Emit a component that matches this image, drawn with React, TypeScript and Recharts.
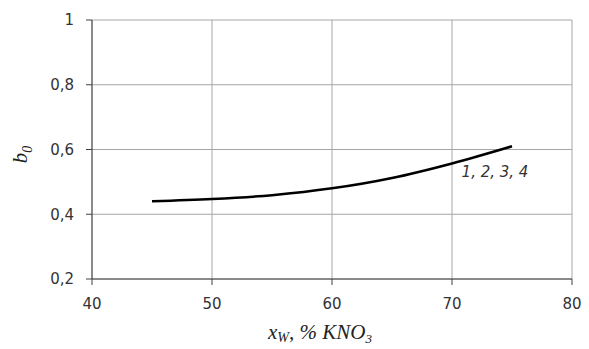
import React from 'react'
import {
  LineChart,
  Line,
  XAxis,
  YAxis,
  CartesianGrid,
  ReferenceDot,
} from 'recharts'

// значения кривой b0(xW), общие для кривых 1–4
const xW = [45, 50, 55, 60, 65, 70, 75]
const b0 = [0.44, 0.447, 0.459, 0.48, 0.512, 0.557, 0.61]

const xTicks = [40, 50, 60, 70, 80]
const yTicks = [0.2, 0.4, 0.6, 0.8, 1]

const curveLabel = '1, 2, 3, 4'
const labelAt = { x: 70.8, y: 0.514 }

const data = xW.map((x, i) => ({ x, b: b0[i] }))

const AXIS = '#404040'
const GRID = '#a6a6a6'
const TICK_FONT = { fontSize: 15, fill: '#333', fontFamily: 'DejaVu Sans' }

const fmt = (v: number) => String(v).replace('.', ',')

const XLabel = ({ viewBox }: any) => {
  const cx = viewBox.x + viewBox.width / 2 - 12
  return (
    <text
      x={cx}
      y={339}
      textAnchor="middle"
      fontFamily="Liberation Serif"
      fontStyle="italic"
      fontSize={21}
      fill="#222"
    >
      x
      <tspan fontSize={14} dy={3}>W</tspan>
      <tspan dy={-3}>, % KNO</tspan>
      <tspan fontSize={13} dy={4}>3</tspan>
    </text>
  )
}

const YLabel = ({ viewBox }: any) => {
  const cy = viewBox.y + viewBox.height / 2 + 5
  return (
    <text
      x={0}
      y={0}
      transform={`translate(27, ${cy}) rotate(-90)`}
      textAnchor="middle"
      fontFamily="Liberation Serif"
      fontStyle="italic"
      fontSize={21}
      fill="#222"
    >
      b<tspan fontSize={14} dy={5}>0</tspan>
    </text>
  )
}

const CurveLabel = ({ viewBox }: any) => (
  <text
    x={viewBox.x}
    y={viewBox.y}
    fontFamily="DejaVu Sans"
    fontStyle="italic"
    fontSize={15}
    fill="#333"
  >
    {curveLabel}
  </text>
)

export default function App() {
  return (
    <div style={{ position: 'absolute', left: 0, top: 0, background: '#fff' }}>
      <LineChart
        width={589}
        height={349}
        data={data}
        margin={{ top: 20, right: 17, left: 32, bottom: 40 }}
      >
        <CartesianGrid stroke={GRID} strokeWidth={1} />
        <XAxis
          dataKey="x"
          type="number"
          domain={[40, 80]}
          ticks={xTicks}
          height={30}
          stroke={AXIS}
          tickSize={6}
          tickMargin={13}
          tick={TICK_FONT}
          label={<XLabel />}
        />
        <YAxis
          type="number"
          domain={[0.2, 1]}
          ticks={yTicks}
          width={60}
          stroke={AXIS}
          tickSize={6}
          tickMargin={12}
          tick={TICK_FONT}
          tickFormatter={fmt}
          label={<YLabel />}
        />
        <Line
          dataKey="b"
          type="monotone"
          stroke="#000"
          strokeWidth={2.5}
          dot={false}
          isAnimationActive={false}
        />
        <ReferenceDot
          x={labelAt.x}
          y={labelAt.y}
          r={0}
          stroke="none"
          fill="none"
          label={<CurveLabel />}
        />
      </LineChart>
    </div>
  )
}
